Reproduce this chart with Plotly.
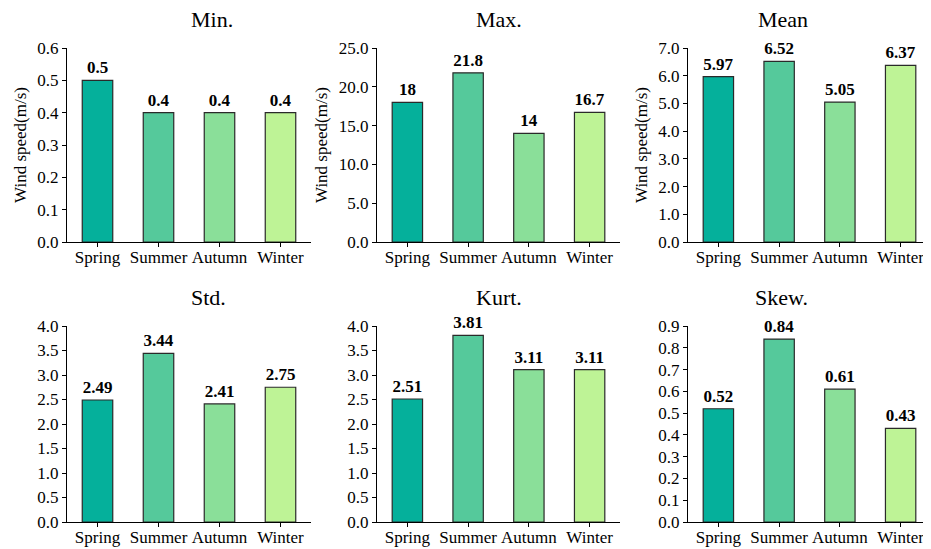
import plotly.graph_objects as go

seasons = ["Spring", "Summer", "Autumn", "Winter"]
colors = ["#05B09B", "#55C99B", "#8ADF99", "#BEF396"]

titles = ["Min.", "Max.", "Mean", "Std.", "Kurt.", "Skew."]
min_vals = [0.5, 0.4, 0.4, 0.4]
max_vals = [18, 21.8, 14, 16.7]
mean_vals = [5.97, 6.52, 5.05, 6.37]
std_vals = [2.49, 3.44, 2.41, 2.75]
kurt_vals = [2.51, 3.81, 3.11, 3.11]
skew_vals = [0.52, 0.84, 0.61, 0.43]
label_texts = [
    ["0.5", "0.4", "0.4", "0.4"],
    ["18", "21.8", "14", "16.7"],
    ["5.97", "6.52", "5.05", "6.37"],
    ["2.49", "3.44", "2.41", "2.75"],
    ["2.51", "3.81", "3.11", "3.11"],
    ["0.52", "0.84", "0.61", "0.43"],
]
all_vals = [min_vals, max_vals, mean_vals, std_vals, kurt_vals, skew_vals]
y_ranges = [[0, 0.6], [0, 25], [0, 7], [0, 4], [0, 4], [0, 0.9]]
y_dtick = [0.1, 5, 1, 0.5, 0.5, 0.1]
show_ytitle = [True, True, True, False, False, False]

# page body has an 8px margin; the figure is sized to fit the window with it
OFF = 8
W, H = 931 - OFF, 549 - OFF
x_px = [(67, 311), (377, 620), (688, 931)]
y_px = [(48, 242), (326, 522)]

FONT = "Liberation Serif"
fig = go.Figure()
annotations = []
for i in range(6):
    r, c = divmod(i, 3)
    ax = "" if i == 0 else str(i + 1)
    x0, x1 = x_px[c][0] - OFF, x_px[c][1] - OFF
    y0, y1 = y_px[r][0] - OFF, y_px[r][1] - OFF
    xd = [x0 / W, min(1.0, x1 / W)]
    yd = [1 - y1 / H, 1 - y0 / H]
    fig.add_trace(go.Bar(
        x=seasons, y=all_vals[i], text=label_texts[i], textposition="outside",
        textfont=dict(family=FONT, size=17, color="black", weight="bold"),
        marker=dict(color=colors, line=dict(color="#2a2a2a", width=1.2)),
        width=0.5, cliponaxis=False, showlegend=False,
        xaxis="x" + ax, yaxis="y" + ax,
    ))
    xa = dict(domain=xd, anchor="y" + ax, showline=True, linecolor="black", linewidth=1,
              ticks="outside", ticklen=4, tickcolor="black", automargin=False,
              tickfont=dict(family=FONT, size=17, color="black"), showgrid=False,
              range=[-0.5, 3.5], ticklabelstandoff=-4)
    ya = dict(domain=yd, anchor="x" + ax, showline=True, linecolor="black", linewidth=1,
              ticks="outside", ticklen=4, tickcolor="black", range=y_ranges[i],
              dtick=y_dtick[i], tick0=0, tickformat=".1f", automargin=False,
              tickfont=dict(family=FONT, size=17, color="black"), showgrid=False,
              zeroline=False)
    if show_ytitle[i]:
        ya["title"] = dict(text="Wind speed(m/s)", font=dict(family=FONT, size=17, color="black"),
                           standoff=6)
    fig.layout["xaxis" + ax] = xa
    fig.layout["yaxis" + ax] = ya
    annotations.append(dict(text=titles[i], x=(xd[0] + xd[1]) / 2, xref="paper",
                            y=1 - (y0 - 29) / H, yref="paper", yanchor="middle",
                            showarrow=False, font=dict(family=FONT, size=22, color="black")))

fig.update_layout(width=W, height=H, margin=dict(l=0, r=0, t=0, b=0),
                  font=dict(family=FONT, color="black"),
                  plot_bgcolor="white", paper_bgcolor="white", annotations=annotations,
                  bargap=0.5)
fig.write_html("out.html")
